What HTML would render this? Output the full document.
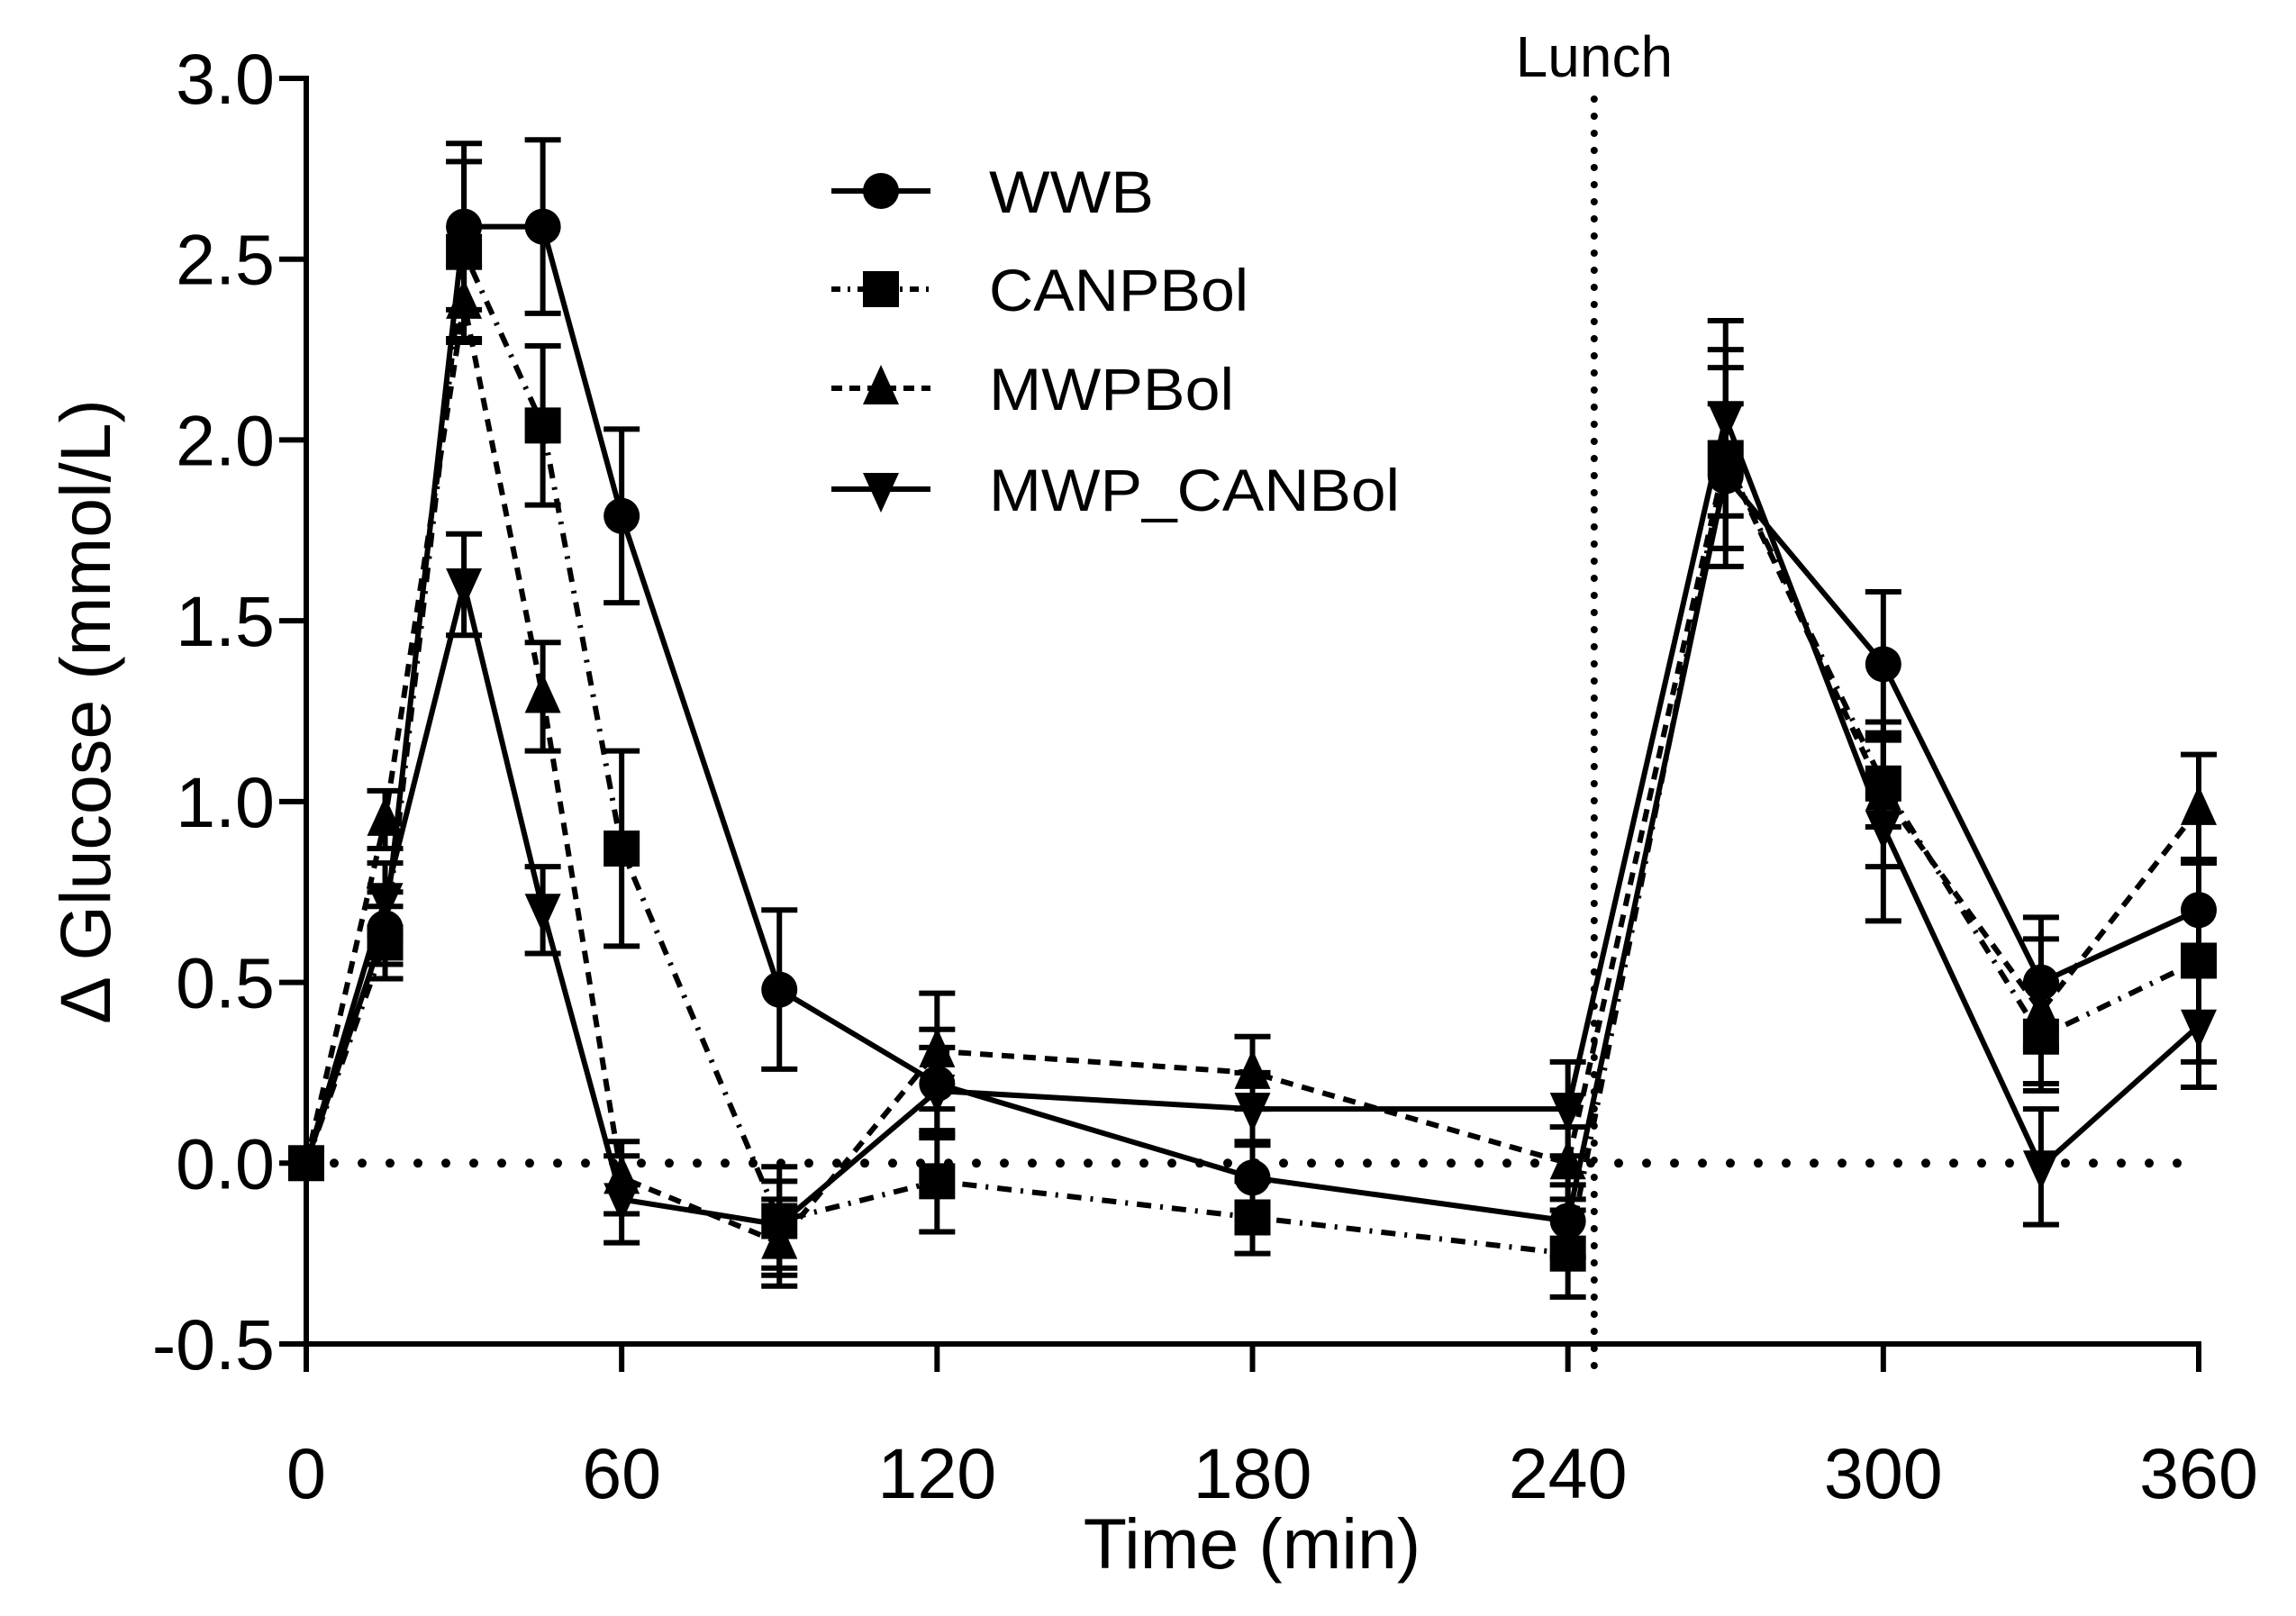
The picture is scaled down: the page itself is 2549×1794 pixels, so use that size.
<!DOCTYPE html>
<html><head><meta charset="utf-8"><style>
html,body{margin:0;padding:0;background:#fff;}
svg{display:block;font-family:"Liberation Sans",Arial,sans-serif;}
</style></head><body>
<svg id="chart" width="2549" height="1794" viewBox="0 0 2549 1794" xmlns="http://www.w3.org/2000/svg"></svg>
<script>
const times = [0,15,30,45,60,90,120,180,240,270,300,330,360];
const wwb = [0,0.65,2.59,2.59,1.79,0.48,0.22,-0.04,-0.16,1.90,1.38,0.50,0.70];
const wwbErr = [0,0.1,0.23,0.24,0.24,0.22,0.15,0.1,0.1,0.2,0.2,0.18,0.14];
const canp = [0,0.61,2.52,2.04,0.87,-0.16,-0.05,-0.15,-0.25,1.95,1.05,0.35,0.56];
const canpErr = [0,0.1,0.25,0.22,0.27,0.15,0.14,0.1,0.12,0.25,0.12,0.15,0.28];
const mwp = [0,0.95,2.38,1.29,-0.04,-0.22,0.31,0.25,0,1.95,1.02,0.42,0.98];
const mwpErr = [0,0.08,0.1,0.15,0.1,0.12,0.16,0.1,0.1,0.3,0.2,0.2,0.15];
const mwpcan = [0,0.73,1.60,0.70,-0.10,-0.17,0.20,0.15,0.15,2.06,0.93,-0.01,0.38];
const mwpcanErr = [0,0.1,0.14,0.12,0.12,0.12,0.12,0.1,0.13,0.27,0.26,0.16,0.17];
const yTicks = [-0.5,0.0,0.5,1.0,1.5,2.0,2.5,3.0];
const xTicks = [0,60,120,180,240,300,360];
const lunchTime = 245;

const NS="http://www.w3.org/2000/svg";
const svg=document.getElementById('chart');
const X0=340,X1=2441,Y0=1492,Y1=87;
function xs(t){return X0+(t-0)/(360-0)*(X1-X0);}
function ys(v){return Y0-(v-(-0.5))/(3.0-(-0.5))*(Y0-Y1);}
function mk(tag,attrs,parent){const e=document.createElementNS(NS,tag);for(const k in attrs)e.setAttribute(k,attrs[k]);(parent||svg).appendChild(e);return e;}

const zl=mk('line',{x1:xs(0),x2:xs(360),y1:ys(0),y2:ys(0),stroke:'#000','stroke-width':10,'stroke-linecap':'round','stroke-dasharray':'0 31'});


const ll=mk('line',{x1:xs(lunchTime),x2:xs(lunchTime),y1:110,y2:Y0+30,stroke:'#000','stroke-width':8,'stroke-linecap':'round','stroke-dasharray':'0 19'});


const lt=mk('text',{x:xs(lunchTime),y:85,'font-size':64,'text-anchor':'middle'});
lt.textContent='Lunch';



const ax=mk('path',{d:`M${X0-30},${Y1} H${X0} V${Y0} H${X1} V${Y0+31}`,fill:'none',stroke:'#000','stroke-width':6});


yTicks.forEach(v=>{
  const tk=mk('line',{x1:X0-30,x2:X0,y1:ys(v),y2:ys(v),stroke:'#000','stroke-width':6});
  
  
  const t=mk('text',{x:305,y:ys(v)+28,'font-size':79,'text-anchor':'end'});
  t.textContent=v.toFixed(1);
  
  
});
xTicks.forEach(v=>{
  const tk=mk('line',{x1:xs(v),x2:xs(v),y1:Y0,y2:Y0+31,stroke:'#000','stroke-width':6});
  
  
  const t=mk('text',{x:xs(v),y:1663,'font-size':79,'text-anchor':'middle'});
  t.textContent=String(v);
  
  
});
const xt=mk('text',{x:1390,y:1741,'font-size':79,'text-anchor':'middle'});
xt.textContent='Time (min)';


const yt=mk('text',{x:0,y:0,'font-size':79,'text-anchor':'middle',transform:'translate(122,790) rotate(-90)'});
yt.textContent='\u0394 Glucose (mmol/L)';



function marker(g,type,cx,cy){
  let e;
  if(type==='circle') e=mk('circle',{cx:cx,cy:cy,r:20},g);
  else if(type==='square') e=mk('rect',{x:cx-20,y:cy-20,width:40,height:40},g);
  else if(type==='up') e=mk('polygon',{points:`${cx},${cy-26} ${cx-20},${cy+18} ${cx+20},${cy+18}`},g);
  else e=mk('polygon',{points:`${cx},${cy+26} ${cx-20},${cy-18} ${cx+20},${cy-18}`},g);
  e.setAttribute('fill','#000');
  return e;
}
const series=[
  {name:'WWB',vals:wwb,err:wwbErr,m:'circle',dash:'none'},
  {name:'CANPBol',vals:canp,err:canpErr,m:'square',dash:'16 10 3 10'},
  {name:'MWPBol',vals:mwp,err:mwpErr,m:'up',dash:'14 10'},
  {name:'MWP_CANBol',vals:mwpcan,err:mwpcanErr,m:'down',dash:'none'}
];
const legRows=[212,321,431,543];
series.forEach((s,si)=>{
  const g=mk('g',{});
  
  
  const d=s.vals.map((v,i)=>(i?'L':'M')+xs(times[i])+','+ys(v)).join(' ');
  const p=mk('path',{d:d,fill:'none',stroke:'#000','stroke-width':6,'stroke-dasharray':s.dash},g);
  
  
  s.vals.forEach((v,i)=>{
    if(s.err[i]>0){
      const x=xs(times[i]),yt=ys(v+s.err[i]),yb=ys(v-s.err[i]);
      const eb=mk('path',{d:`M${x},${yt} V${yb} M${x-20},${yt} H${x+20} M${x-20},${yb} H${x+20}`,stroke:'#000','stroke-width':6,fill:'none'},g);
      
      
    }
    const m=marker(g,s.m,xs(times[i]),ys(v));
    
    
  });
  const lg=mk('g',{});
  
  
  const y=legRows[si];
  mk('line',{x1:923,x2:1033,y1:y,y2:y,stroke:'#000','stroke-width':6,'stroke-dasharray':s.dash==='none'?'none':(si===1?'10 8 3 8':'12 8')},lg);
  marker(lg,s.m,978,y);
  const lens=[183,288,272,456];
  const tx=mk('text',{x:1098,y:y+24,'font-size':66,textLength:lens[si],lengthAdjust:'spacingAndGlyphs'},lg);
  tx.textContent=s.name;
});
</script>
</body></html>
